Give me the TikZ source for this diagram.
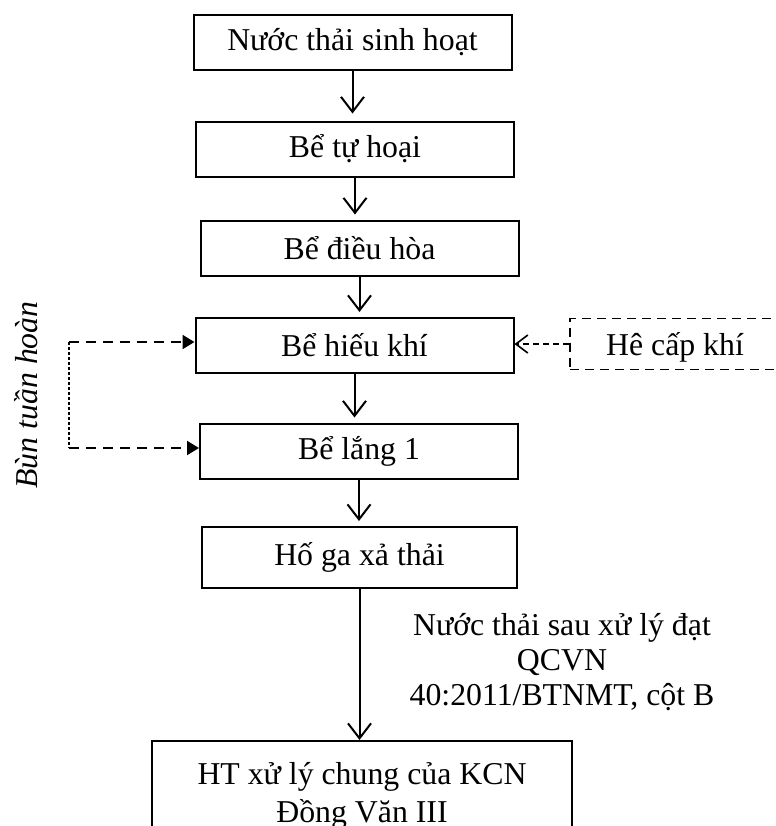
\documentclass[tikz,border=0pt]{standalone}
\usepackage{fontspec}
\setmainfont{Liberation Serif}
\usetikzlibrary{arrows.meta}

\begin{document}
\begin{tikzpicture}[x=0.5pt,y=-0.5pt,font=\fontsize{15.9}{17.5}\selectfont,
    box/.style={draw,line width=1pt,minimum width=159pt,minimum height=27.5pt,inner sep=0pt},
    flow/.style={line width=1pt,-{Straight Barb[length=7.5pt,width=11.5pt]},shorten >=2.5pt},
    ret/.style={line width=1pt,dash pattern=on 5pt off 3.5pt,-{Triangle[length=6pt,width=7pt]}},
    airflow/.style={line width=0.8pt,dash pattern=on 3pt off 2pt,-{Straight Barb[length=6pt,width=9pt]}}]
    \clip (0,0) rectangle (776,826);

    \node[box] (b1) at (352.5,42.5) {Nước thải sinh hoạt};
    \node[box] (b2) at (355,149) {Bể tự hoại};
    \node[box] (b3) at (359.5,248) {Bể điều hòa};
    \node[box] (b4) at (354.5,345.5) {Bể hiếu khí};
    \node[box] (b5) at (359,451) {Bể lắng 1};
    \node[box,minimum width=157.5pt,minimum height=30.5pt] (b6) at (359.5,557.5) {Hố ga xả thải};
    \node[box,minimum width=210pt,minimum height=55pt,align=center,font=\fontsize{15.9}{19}\selectfont] (b7) at (362,796) {HT xử lý chung của KCN\\Đồng Văn III};

    \node[draw,line width=0.8pt,dash pattern=on 4.5pt off 3pt,minimum width=105pt,minimum height=25.5pt,inner sep=0pt,text depth=0pt] (air) at (675,344) {Hê cấp khí};

    \draw[flow,shorten >=3.5pt] (b1.south) -- (b1.south |- b2.north);
    \draw[flow] (b2.south) -- (b2.south |- b3.north);
    \draw[flow] (b3.south) -- (b3.south |- b4.north);
    \draw[flow] (b4.south) -- (b4.south |- b5.north);
    \draw[flow] (b5.south) -- (b5.south |- b6.north);
    \draw[flow,shorten >=0pt] (b6.south) -- (b6.south |- b7.north);

    \node[align=center] (out) at (562,662) {Nước thải sau xử lý đạt\\QCVN\\40:2011/BTNMT, cột B};

    % bun tuan hoan
    \coordinate (rt) at (69,342);
    \coordinate (rb) at (69,448);
    \draw[line width=0.6pt,dash pattern=on 1.5pt off 1pt] (rt) -- (rb);
    \draw[ret] (rt) -- (b4.west |- rt);
    \draw[ret] (rb) -- (b5.west |- rb);
    \node[rotate=90,font=\fontsize{15.9}{17.5}\selectfont\itshape] (bun) at (26,395) {Bùn tuần hoàn};

    \draw[airflow] (air.west) -- (b4.east |- air.west);
\end{tikzpicture}
\end{document}
